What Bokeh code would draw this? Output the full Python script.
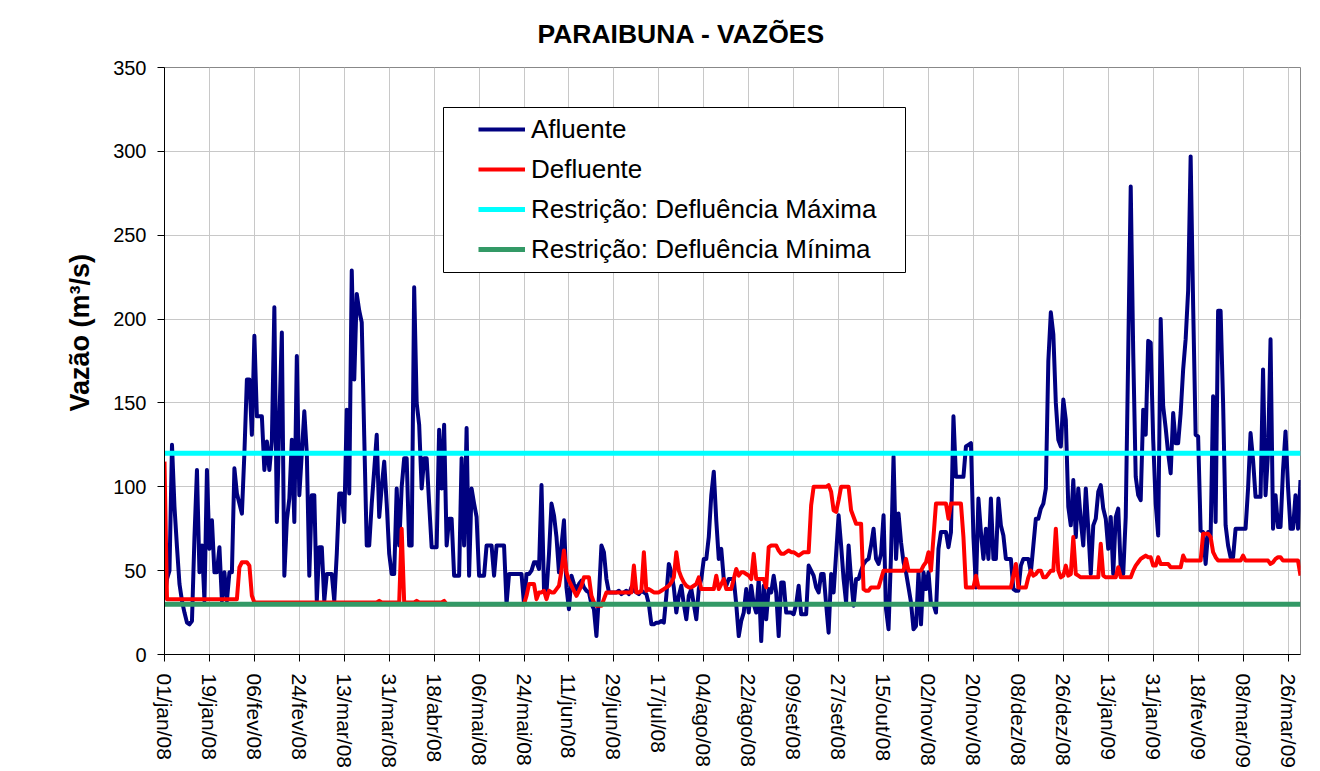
import numpy as np
from bokeh.plotting import figure
from bokeh.models import FixedTicker, Legend, LegendItem, BoxAnnotation, Range1d, Title
from bokeh.embed import file_html
from bokeh.resources import INLINE

# ---------------- data (daily, 01/jan/08 .. 31/mar/09) ----------------
afluente = [
    33, 45, 50, 125, 88, 64, 42, 32, 25, 19,
    18, 20, 70, 110, 49, 65, 32, 110, 63, 80,
    49, 49, 64, 32, 49, 32, 49, 49, 111, 96,
    90, 84, 120, 164, 164, 131, 190, 142, 142, 142,
    110, 127, 110, 127, 207, 79, 140, 192, 47, 80,
    93, 128, 79, 178, 95, 120, 145, 120, 47, 95,
    95, 32, 64, 64, 32, 48, 48, 48, 32, 60,
    96, 96, 79, 146, 96, 229, 164, 215, 205, 198,
    130, 65, 65, 90, 110, 131, 82, 100, 115, 90,
    60, 48, 48, 99, 65, 100, 117, 117, 65, 65,
    219, 150, 137, 99, 117, 117, 90, 64, 64, 64,
    134, 99, 137, 65, 81, 81, 47, 47, 47, 117,
    65, 135, 47, 99, 90, 82, 47, 47, 47, 65,
    65, 65, 47, 65, 65, 65, 65, 30, 48, 48,
    48, 48, 48, 48, 30, 48, 48, 50, 55, 55,
    51, 101, 39, 37, 60, 90, 83, 70, 49, 65,
    80, 40, 27, 47, 42, 39, 42, 44, 40, 38,
    37, 30, 27, 11, 35, 65, 61, 45, 37, 37,
    37, 37, 38, 36, 37, 38, 36, 40, 38, 37,
    36, 38, 37, 36, 30, 18, 18, 19, 19, 20,
    19, 35, 54, 49, 40, 25, 35, 41, 30, 21,
    35, 39, 30, 21, 39, 45, 57, 57, 70, 95,
    109, 80, 57, 63, 45, 41, 45, 45, 45, 30,
    11, 20, 25, 39, 25, 41, 30, 25, 45, 8,
    41, 21, 39, 37, 47, 37, 11, 43, 43, 25,
    25, 25, 24, 30, 41, 24, 24, 24, 53, 50,
    47, 40, 37, 48, 48, 30, 13, 48, 37, 60,
    83, 65, 45, 31, 65, 45, 29, 45, 45, 50,
    54, 56, 57, 65, 75, 57, 54, 60, 83, 27,
    15, 60, 118, 57, 84, 67, 55, 49, 40, 31,
    15, 17, 49, 18, 49, 39, 49, 30, 30, 25,
    63, 73, 73, 73, 64, 73, 142, 106, 106, 106,
    106, 124, 125, 126, 70, 40, 93, 73, 57, 75,
    57, 93, 57, 57, 93, 77, 71, 57, 57, 57,
    39, 38, 38, 53, 57, 57, 57, 49, 65, 81,
    81, 87, 90, 99, 175, 204, 191, 150, 128, 124,
    152, 140, 88, 77, 104, 70, 99, 80, 65, 99,
    75, 48, 77, 81, 97, 101, 87, 81, 63, 82,
    48, 82, 87, 51, 48, 82, 180, 279, 180, 106,
    95, 92, 146, 131, 187, 186, 128, 90, 71, 200,
    148, 135, 120, 108, 144, 126, 126, 144, 170, 188,
    217, 297, 208, 131, 130, 74, 73, 54, 73, 70,
    154, 79, 205, 205, 150, 77, 65, 58, 58, 75,
    75, 75, 75, 75, 99, 132, 116, 94, 94, 94,
    170, 95, 120, 188, 75, 95, 76, 76, 110, 133,
    100, 75, 75, 95, 75, 104,
]

defluente = [
    115, 33, 33, 33, 33, 33, 33, 33, 33, 33,
    33, 33, 33, 33, 33, 33, 33, 33, 33, 33,
    33, 33, 33, 33, 33, 33, 33, 33, 33, 33,
    52, 55, 55, 55, 53, 35, 31, 31, 31, 31,
    31, 31, 31, 31, 31, 31, 31, 31, 31, 31,
    31, 31, 31, 31, 31, 31, 31, 31, 31, 31,
    31, 31, 31, 31, 31, 31, 31, 31, 31, 31,
    31, 31, 31, 31, 31, 31, 31, 31, 31, 31,
    31, 31, 31, 31, 31, 31, 32, 31, 31, 31,
    31, 31, 31, 31, 31, 75, 31, 31, 31, 31,
    31, 32, 31, 31, 31, 31, 31, 31, 31, 31,
    31, 31, 32, 30, 30, 30, 30, 30, 30, 30,
    30, 30, 30, 30, 30, 30, 30, 30, 30, 30,
    30, 30, 30, 30, 30, 30, 30, 30, 30, 30,
    30, 30, 30, 30, 30, 35, 42, 42, 42, 33,
    37, 37, 38, 33, 38, 37, 37, 39, 41, 50,
    62, 49, 44, 41, 38, 35, 38, 41, 46, 46,
    46, 35, 31, 29, 29, 29, 33, 37, 37, 37,
    37, 37, 37, 37, 37, 37, 37, 37, 53, 37,
    37, 38, 61, 38, 39, 38, 37, 37, 37, 38,
    39, 40, 41, 43, 46, 61, 50, 46, 43, 41,
    40, 40, 41, 42, 46, 39, 39, 39, 39, 39,
    39, 47, 39, 42, 45, 39, 39, 39, 45, 51,
    47, 49, 49, 48, 47, 45, 60, 45, 45, 45,
    45, 40, 64, 65, 65, 65, 62, 60, 60, 61,
    62, 61, 61, 60, 59, 60, 61, 61, 61, 89,
    100, 100, 100, 100, 100, 100, 101, 97, 86, 85,
    92, 100, 100, 100, 100, 86, 82, 78, 78, 78,
    39, 38, 38, 40, 40, 40, 40, 45, 50, 50,
    50, 50, 50, 50, 50, 50, 50, 57, 50, 50,
    50, 50, 50, 50, 53, 55, 61, 50, 70, 90,
    90, 90, 90, 90, 81, 90, 90, 90, 90, 90,
    70, 40, 40, 40, 40, 47, 40, 40, 40, 40,
    40, 40, 40, 40, 40, 40, 40, 40, 40, 40,
    47, 54, 40, 40, 40, 40, 46, 50, 47, 48,
    50, 50, 46, 46, 48, 50, 50, 75, 50, 46,
    47, 53, 47, 48, 70, 48, 47, 46, 46, 46,
    46, 46, 46, 46, 46, 66, 47, 46, 46, 46,
    46, 46, 52, 46, 46, 46, 46, 46, 50, 53,
    55, 57, 58, 59, 58, 58, 53, 53, 58, 54,
    54, 54, 54, 52, 52, 52, 52, 52, 59, 56,
    56, 56, 56, 56, 56, 56, 72, 72, 72, 70,
    61, 58, 56, 56, 56, 56, 56, 56, 56, 56,
    56, 56, 59, 56, 56, 56, 56, 56, 56, 56,
    56, 56, 56, 54, 55, 57, 58, 58, 56, 56,
    56, 56, 56, 56, 56, 47,
]

defluencia_maxima = 120
defluencia_minima = 30

tick_days = [0, 18, 36, 54, 72, 90, 108, 126, 144, 162, 180, 198, 216,
             234, 252, 270, 288, 306, 324, 342, 360, 378, 396, 414, 432, 450]
tick_labels = ["01/jan/08", "19/jan/08", "06/fev/08", "24/fev/08", "13/mar/08",
               "31/mar/08", "18/abr/08", "06/mai/08", "24/mai/08", "11/jun/08",
               "29/jun/08", "17/jul/08", "04/ago/08", "22/ago/08", "09/set/08",
               "27/set/08", "15/out/08", "02/nov/08", "20/nov/08", "08/dez/08",
               "26/dez/08", "13/jan/09", "31/jan/09", "18/fev/09", "08/mar/09",
               "26/mar/09"]
y_ticks = [0, 50, 100, 150, 200, 250, 300, 350]

days_a = list(range(len(afluente)))
days_d = list(range(len(defluente)))
n_days = max(len(afluente), len(defluente))
days_all = list(range(n_days))

FONT = "Liberation Sans"

p = figure(width=1320, height=771, output_backend="svg", toolbar_location=None,
           x_range=Range1d(0, n_days - 1), y_range=Range1d(0, 350),
           min_border_left=164, min_border_right=20, min_border_top=67,
           min_border_bottom=115, background_fill_color="white",
           border_fill_color="white")

p.title.text = "PARAIBUNA - VAZÕES"
p.title.text_font = FONT
p.title.text_font_style = "bold"
p.title.text_font_size = "26.5px"
p.title.text_color = "black"
p.title.align = "left"
p.title.offset = 373
p.title.vertical_align = "top"
p.title.standoff = 33

p.outline_line_color = "#888888"
p.outline_line_width = 1

# axes
p.xaxis.ticker = FixedTicker(ticks=tick_days)
p.xaxis.major_label_overrides = {d: l for d, l in zip(tick_days, tick_labels)}
p.xaxis.major_label_orientation = -np.pi / 2
p.yaxis.ticker = FixedTicker(ticks=y_ticks)
for ax in (p.xaxis, p.yaxis):
    ax.major_label_text_font = FONT
    ax.major_label_text_color = "black"
    ax.axis_line_color = "black"
    ax.axis_line_width = 1
    ax.major_tick_line_color = "black"
    ax.major_tick_out = 7
    ax.major_tick_in = 0
    ax.minor_tick_line_color = None
p.xaxis.major_label_standoff = 12
p.yaxis.major_label_standoff = 11
p.xaxis.major_label_text_font_size = "21px"
p.yaxis.major_label_text_font_size = "20px"

ylab = Title(text="Vazão (m³/s)", align="left", offset=243, standoff=31,
             text_font=FONT, text_font_style="bold", text_font_size="27px",
             text_color="black")
p.add_layout(ylab, "left")

p.xgrid.grid_line_color = "#c8c8c8"
p.ygrid.grid_line_color = "#c8c8c8"
p.xgrid.grid_line_width = 1
p.ygrid.grid_line_width = 1

# series
r_af = p.line(days_a, afluente, line_color="#000080", line_width=4, line_join="round")
r_de = p.line(days_d, defluente, line_color="#FF0000", line_width=4, line_join="round")
r_max = p.line(days_all, [defluencia_maxima] * n_days, line_color="#00FFFF", line_width=5)
r_min = p.line(days_all, [defluencia_minima] * n_days, line_color="#339966", line_width=5)

# legend box + legend
box = BoxAnnotation(left=279, right=741, bottom=382, top=547,
                    left_units="screen", right_units="screen",
                    top_units="screen", bottom_units="screen",
                    fill_color="white", fill_alpha=1.0,
                    line_color="black", line_width=1, line_alpha=1.0)
p.add_layout(box)

legend = Legend(items=[
    LegendItem(label="Afluente", renderers=[r_af]),
    LegendItem(label="Defluente", renderers=[r_de]),
    LegendItem(label="Restrição: Defluência Máxima", renderers=[r_max]),
    LegendItem(label="Restrição: Defluência Mínima", renderers=[r_min]),
], location=(314, 385), orientation="vertical", padding=0, spacing=0, margin=0,
    label_height=40, glyph_height=40, glyph_width=47, label_standoff=6,
    label_text_font=FONT, label_text_font_size="26px", label_text_color="black",
    border_line_color=None, background_fill_alpha=0.0)
p.add_layout(legend)

open("out.html", "w").write(file_html(p, INLINE))
